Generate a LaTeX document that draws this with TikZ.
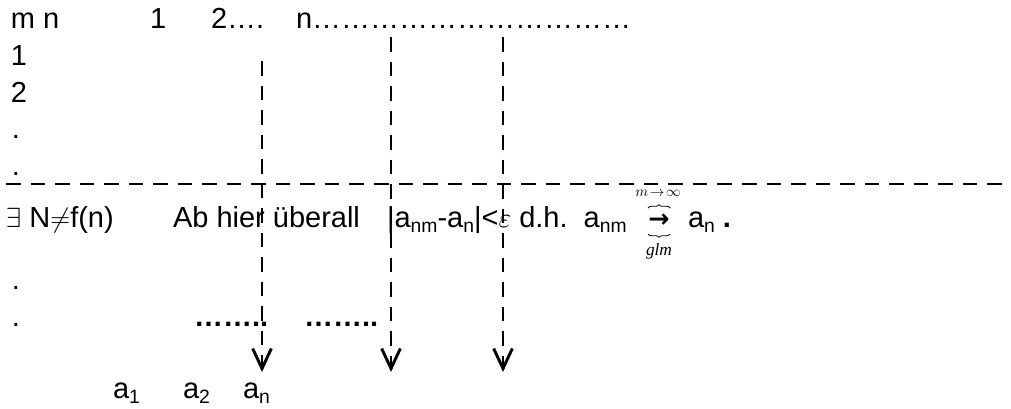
\documentclass[tikz,border=0pt]{standalone}
\usepackage{fontspec}
\setmainfont{Liberation Sans}
\newfontfamily\serifit{Liberation Serif}
\newfontfamily\djv{DejaVu Sans}
\usetikzlibrary{arrows.meta,decorations.pathreplacing}
\newcommand\subx[1]{\raisebox{-0.18em}{\fontsize{14.5pt}{14.5pt}\selectfont #1}}
\begin{document}
\begin{tikzpicture}[x=0.75pt,y=-0.75pt,
  txt/.style={anchor=base west, inner sep=0pt, outer sep=0pt, font=\fontsize{21.75pt}{26pt}\selectfont},
  boldtxt/.style={txt, font=\fontsize{21.75pt}{26pt}\selectfont\bfseries},
  dashline/.style={line width=1.5pt, dash pattern=on 10.9pt off 7.5pt},
  vtip/.style={-{Straight Barb[length=15pt,width=14pt,line width=2.2pt]}},
  small/.style={inner sep=0pt, outer sep=0pt}
]
\useasboundingbox (0,0) rectangle (1011,408);
% top row
\node[txt] (mn) at (11,28) {m n};
\node[txt] (c1) at (150,28) {1};
\node[txt] (c2) at (211,28) {2….};
\node[txt] (cn) at (296,28) {n……………………………};
% row labels
\node[txt] (r1) at (11,65) {1};
\node[txt] (r2) at (11,102) {2};
\node[txt] (r3) at (12,138) {.};
\node[txt] (r4) at (12,175) {.};
% horizontal dashed line
\coordinate (hl) at (6,183.5);
\coordinate (hr) at (1011,183.5);
\draw[dashline] (hl) -- (hr);
% main line
\node[txt] (ex) at (6,227) {$\exists$ N$\neq$f(n)};
\node[txt] (ab) at (173,227) {Ab hier überall};
\node[txt] (ineq) at (387,227) {|a\subx{nm}-a\subx{n}|<$\varepsilon$ d.h.\ \ a\subx{nm}};
\node[small, font=\djv\bfseries\fontsize{19pt}{19pt}\selectfont] (arr) at (659,221) {→};
\draw[line width=0.6pt, decorate, decoration={brace, amplitude=2.5pt}] (648,208) -- (670,208);
\draw[line width=0.6pt, decorate, decoration={brace, amplitude=2.5pt}] (670,234) -- (648,234);
\node[small, font=\fontsize{11pt}{11pt}\selectfont] (lim) at (658,193) {$m\!\rightarrow\!\infty$};
\node[small, font=\serifit\itshape\fontsize{13pt}{13pt}\selectfont] (glm) at (659,251) {glm};
\node[txt] (an) at (688,227) {a\subx{n} \textbf{.}};
% lower rows
\node[txt] (r5) at (12,289) {.};
\node[txt] (r6) at (12,326) {.};
\node[boldtxt] (d1) at (194,326) {……..};
\node[boldtxt] (d2) at (304,326) {……..};
% bottom labels
\node[txt] (a1) at (113,398) {a\subx{1}};
\node[txt] (a2) at (183,398) {a\subx{2}};
\node[txt] (a3) at (243,398) {a\subx{n}};
% vertical dashed arrows
\coordinate (t1) at (262,61);   \coordinate (b1) at (262,372);
\coordinate (t2) at (391,37);   \coordinate (b2) at (391,372);
\coordinate (t3) at (503,37);   \coordinate (b3) at (503,372);
\draw[dashline, vtip] (t1) -- (b1);
\draw[dashline, vtip] (t2) -- (b2);
\draw[dashline, vtip] (t3) -- (b3);
\end{tikzpicture}
\end{document}
